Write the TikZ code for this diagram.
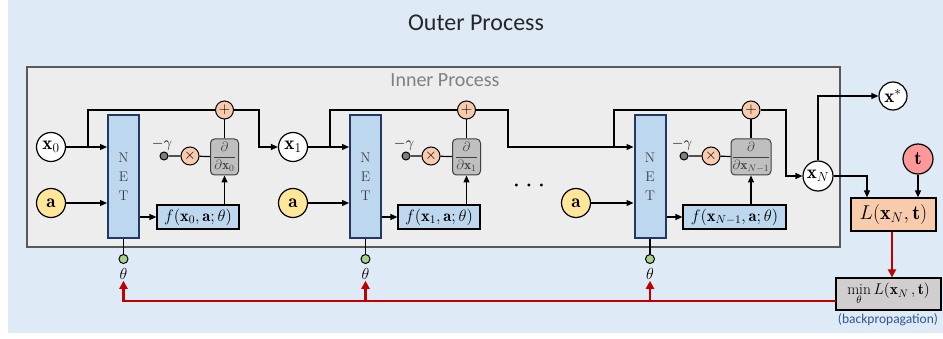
\RequirePackage{fix-cm}
\documentclass[tikz,border=0pt]{standalone}
\usepackage{fontspec}
\newfontfamily\calibri{Carlito}
\usetikzlibrary{arrows.meta}
\definecolor{outerbg}{HTML}{DEEBF7}
\definecolor{innerbg}{HTML}{EDEDED}
\definecolor{innerline}{HTML}{595959}
\definecolor{netfill}{HTML}{BDD7EE}
\definecolor{netline}{HTML}{1F3864}
\definecolor{opfill}{HTML}{F8CBAD}
\definecolor{derfill}{HTML}{BFBFBF}
\definecolor{dotfill}{HTML}{7F7F7F}
\definecolor{thfill}{HTML}{A9D18E}
\definecolor{afill}{HTML}{FFE699}
\definecolor{tfill}{HTML}{FF9999}
\definecolor{minfill}{HTML}{D0CECE}
\definecolor{bpred}{HTML}{C00000}
\definecolor{bpblue}{HTML}{2F5597}
\definecolor{darktext}{HTML}{404040}
\tikzset{
  var/.style={circle,draw,line width=1.2pt,fill=white,minimum size=29pt,inner sep=0pt,font=\fontsize{19}{19}\selectfont},
  inp/.style={var,fill=afill},
  target/.style={var,fill=tfill,minimum size=30pt},
  net/.style={draw=netline,line width=2pt,fill=netfill,minimum width=31pt,minimum height=123pt,inner sep=0pt,align=center,font=\fontsize{14}{19}\selectfont,text=darktext},
  opnode/.style={circle,draw,line width=1pt,fill=opfill,minimum size=18pt,inner sep=0pt,font=\fontsize{15}{15}\selectfont},
  der/.style={draw=darktext,line width=1pt,fill=derfill,rounded corners=4pt,minimum width=28pt,minimum height=36pt,inner sep=0pt,font=\fontsize{13.5}{13.5}\selectfont,text=darktext},
  fnode/.style={draw,line width=1.2pt,fill=netfill,minimum width=82pt,minimum height=24pt,inner sep=0pt,font=\fontsize{16.5}{16.5}\selectfont},
  gdot/.style={circle,draw,line width=1pt,fill=dotfill,minimum size=8pt,inner sep=0pt},
  glabel/.style={font=\fontsize{15}{15}\selectfont,inner sep=0pt,label distance=1pt,xshift=-2pt},
  thdot/.style={circle,draw,line width=1pt,fill=thfill,minimum size=9pt,inner sep=0pt},
  thlabel/.style={font=\fontsize{16}{16}\selectfont,inner sep=1pt},
  lossbox/.style={draw,line width=1.2pt,fill=opfill,minimum width=85pt,minimum height=33pt,inner sep=0pt,font=\fontsize{20}{20}\selectfont},
  minbox/.style={draw,line width=1.2pt,fill=minfill,minimum width=105pt,minimum height=32pt,inner sep=0pt,font=\fontsize{15.5}{15.5}\selectfont},
  wire/.style={line width=1.2pt},
  arr/.style={wire,-{Triangle[length=7pt,width=6pt]}},
  bparr/.style={draw=bpred,line width=2.8pt,-{Triangle[length=8pt,width=8pt]}}
}
\begin{document}
\begin{tikzpicture}[x=1pt,y=-1pt]
\useasboundingbox (0,0) rectangle (943,339);
\fill[outerbg] (8,0) rectangle (943,333);
\filldraw[fill=innerbg,draw=innerline,line width=1.2pt] (27,67) rectangle (840,247);
\node[font=\calibri\fontsize{24}{24}\selectfont,text=black!85] (outer) at (476,23) {Outer Process};
\node[font=\calibri\fontsize{20}{20}\selectfont,text=black!50] (inner) at (445,80) {Inner Process};

\node[var] (x0) at (51,147) {$\mathbf{x}_0$};
\node[inp] (a0) at (51,203) {$\mathbf{a}$};
\node[net] (net0) at (123.5,176.5) {N\\E\\T};
\node[opnode] (plus0) at (224.5,110) {$+$};
\node[der] (der0) at (224.5,157) {$\displaystyle\frac{\partial}{\partial\mathbf{x}_0}$};
\node[opnode] (times0) at (190,156) {$\times$};
\node[gdot,label={[glabel]above:$-\gamma$}] (g0) at (164,156) {};
\node[fnode] (f0) at (198,217) {$f(\mathbf{x}_0,\mathbf{a};\theta)$};
\node[thdot] (th0) at (123.5,259) {};
\node[thlabel] (thl0) at (123.5,274) {$\theta$};
\coordinate (br0) at (88,147);
\coordinate (turn0) at (259,110);

\node[var] (x1) at (293,147) {$\mathbf{x}_1$};
\node[inp] (a1) at (293,203) {$\mathbf{a}$};
\node[net] (net1) at (365.5,176.5) {N\\E\\T};
\node[opnode] (plus1) at (466.5,110) {$+$};
\node[der] (der1) at (466.5,157) {$\displaystyle\frac{\partial}{\partial\mathbf{x}_1}$};
\node[opnode] (times1) at (431,156) {$\times$};
\node[gdot,label={[glabel]above:$-\gamma$}] (g1) at (406,156) {};
\node[fnode] (f1) at (439,217) {$f(\mathbf{x}_1,\mathbf{a};\theta)$};
\node[thdot] (th1) at (365.5,259) {};
\node[thlabel] (thl1) at (365.5,274) {$\theta$};
\coordinate (br1) at (330,147);
\coordinate (turn1) at (508,110);

\node[font=\fontsize{28}{28}\selectfont] (dots) at (529,186) {$\cdots$};

\node[inp] (a2) at (576,203) {$\mathbf{a}$};
\node[net] (net2) at (650,176.5) {N\\E\\T};
\node[opnode] (plus2) at (751,110) {$+$};
\node[der,minimum width=40pt] (der2) at (751,157) {$\displaystyle\frac{\partial}{\partial\mathbf{x}_{N-1}}$};
\node[opnode] (times2) at (711,156) {$\times$};
\node[gdot,label={[glabel]above:$-\gamma$}] (g2) at (684,156) {};
\node[fnode,minimum width=103pt] (f2) at (734.5,217) {$f(\mathbf{x}_{N-1},\mathbf{a};\theta)$};
\node[thdot] (th2) at (650,259) {};
\node[thlabel] (thl2) at (650,274) {$\theta$};
\coordinate (br2) at (614,147);
\coordinate (turn2) at (786,110);

\node[var,minimum size=30pt] (xN) at (818,176) {$\mathbf{x}_N$};
\node[var,minimum size=28pt] (xstar) at (893,96) {$\mathbf{x}^{*}$};
\node[target] (t) at (918,159) {$\mathbf{t}$};
\node[lossbox] (L) at (893.5,214.5) {$L(\mathbf{x}_N,\mathbf{t})$};
\node[minbox] (minL) at (888.5,294) {$\min\limits_{\theta}L(\mathbf{x}_N\,,\mathbf{t})$};
\node[font=\calibri\fontsize{13.5}{13.5}\selectfont,text=bpblue] (bplabel) at (888,320) {(backpropagation)};
\coordinate (bus) at (836,301);

\draw[arr] (x0) -- (x0 -| net0.west);
\draw[arr] (a0) -- (a0 -| net0.west);
\draw[wire] (br0) |- (plus0);
\draw[arr] (plus0) -- (turn0) |- (x1);
\draw[wire] (plus0) -- (der0);
\draw[wire] (g0) -- (times0) -- (der0);
\draw[arr] (net0.east |- f0) -- (f0.west);
\draw[arr] (der0 |- f0.north) -- (der0.south);
\draw[wire] (net0.south) -- (th0);

\draw[arr] (x1) -- (x1 -| net1.west);
\draw[arr] (a1) -- (a1 -| net1.west);
\draw[wire] (br1) |- (plus1);
\draw[wire] (plus1) -- (turn1) |- (br2);
\draw[wire] (plus1) -- (der1);
\draw[wire] (g1) -- (times1) -- (der1);
\draw[arr] (net1.east |- f1) -- (f1.west);
\draw[arr] (der1 |- f1.north) -- (der1.south);
\draw[wire] (net1.south) -- (th1);

\draw[arr] (br2) -- (br2 -| net2.west);
\draw[arr] (a2) -- (a2 -| net2.west);
\draw[wire] (br2) |- (plus2);
\draw[arr] (plus2) -- (turn2) |- (xN);
\draw[wire] (plus2) -- (der2);
\draw[wire] (g2) -- (times2) -- (der2);
\draw[arr] (net2.east |- f2) -- (f2.west);
\draw[arr] (der2 |- f2.north) -- (der2.south);
\draw[wire] (net2.south) -- (th2);

\draw[arr] (xN) |- (xstar);
\draw[arr] (xN) -| ([xshift=-26.5pt]L.north);
\draw[arr] (t) -- (t |- L.north);
\draw[bparr] ([xshift=-1.5pt]L.south) -- ([xshift=-1.5pt]L.south |- minL.north);
\draw[bparr] (bus) -| (thl0);
\draw[bparr] (thl1 |- bus) -- (thl1);
\draw[bparr] (thl2 |- bus) -- (thl2);
\end{tikzpicture}
\end{document}
